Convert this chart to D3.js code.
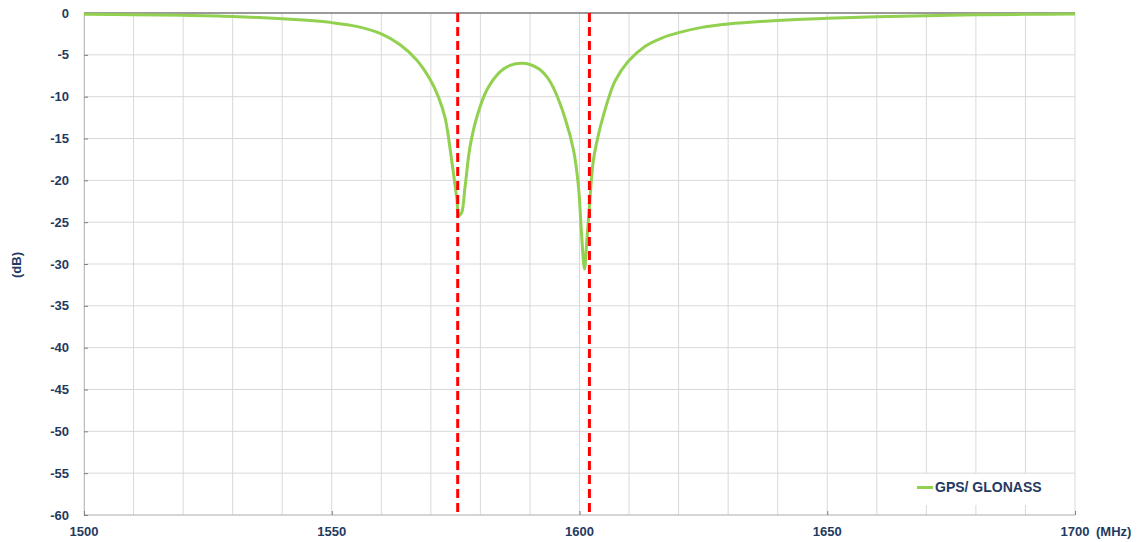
<!DOCTYPE html>
<html>
<head>
<meta charset="utf-8">
<script src="https://cdn.jsdelivr.net/npm/d3@7"></script>
<style>
  body { margin: 0; background: #fff; }
  text { font-family: 'Liberation Sans', Arial, sans-serif; font-weight: bold; fill: #1f3a60; }
</style>
</head>
<body>
<script>
let width = 1139
let height = 542

// frequency (MHz) and response (dB)
let freqs = [1500, 1510, 1520, 1530, 1540, 1545, 1550, 1555, 1560, 1563.8, 1567.1, 1569.8,
  1571.5, 1572.9, 1574.2, 1575.2, 1575.7, 1576.2, 1576.9, 1577.9, 1579.3, 1581.3, 1584,
  1586, 1588.3, 1590, 1592, 1593.5, 1594.7, 1597.1, 1598.8, 1599.8, 1600.4, 1601.0, 1601.4,
  1602.0, 1602.8, 1603.8, 1604.8, 1605.8, 1607.2, 1609.8, 1613.2, 1616.6, 1620, 1624.7, 1630,
  1640, 1650, 1660, 1670, 1680, 1690, 1700]
let gains = [-0.15, -0.2, -0.28, -0.42, -0.68, -0.88, -1.15, -1.6, -2.5, -3.8, -5.6, -7.9,
  -10.0, -12.6, -17.6, -22, -24.2, -23.9, -20.8, -16, -12.4, -9.2, -7.0,
  -6.25, -6.0, -6.15, -6.75, -7.7, -8.9, -12.6, -16.4, -20.8, -26.3, -30.6, -27.9,
  -23.1, -17.6, -14.6, -12.3, -10.3, -8.1, -5.8, -4.0, -3.0, -2.35, -1.72, -1.32,
  -0.9, -0.64, -0.45, -0.32, -0.22, -0.16, -0.12]
let markers = [1575.42, 1602]
let seriesName = 'GPS/ GLONASS'
let xTicks = [1500, 1550, 1600, 1650, 1700]
let yTicks = d3.range(-60, 1, 5)

let svg = d3.select('body')
  .append('svg')
  .attr('width', width)
  .attr('height', height)

let x = d3.scaleLinear().domain([1500, 1700]).range([84, 1075])
let y = d3.scaleLinear().domain([-60, 0]).range([515, 13])

// grid
svg.append('g')
  .selectAll('line')
  .data(d3.range(1500, 1701, 10))
  .enter()
  .append('line')
  .attr('x1', d => x(d)).attr('x2', d => x(d))
  .attr('y1', y(0)).attr('y2', y(-60))
  .attr('stroke', '#d9d9d9')
  .attr('stroke-width', 1)

svg.append('g')
  .selectAll('line')
  .data(yTicks)
  .enter()
  .append('line')
  .attr('x1', x(1500)).attr('x2', x(1700))
  .attr('y1', d => y(d)).attr('y2', d => y(d))
  .attr('stroke', '#d9d9d9')
  .attr('stroke-width', 1)

// bottom frame and zero line
svg.append('line')
  .attr('x1', x(1500)).attr('x2', x(1700))
  .attr('y1', y(-60)).attr('y2', y(-60))
  .attr('stroke', '#bfbfbf')
svg.append('line')
  .attr('x1', x(1500)).attr('x2', x(1700))
  .attr('y1', y(0)).attr('y2', y(0))
  .attr('stroke', '#7f7f7f')
  .attr('stroke-width', 1.5)

// axes
let yAxis = d3.axisRight(y).tickValues(yTicks).tickSize(4).tickFormat('')
svg.append('g')
  .attr('transform', `translate(${x(1500)},0)`)
  .call(yAxis)
  .call(g => g.select('.domain').attr('stroke', '#bfbfbf'))
  .call(g => g.selectAll('.tick line').attr('stroke', '#7f7f7f'))

svg.append('g')
  .selectAll('text')
  .data(yTicks)
  .enter()
  .append('text')
  .attr('x', 69)
  .attr('y', d => y(d))
  .attr('dy', '0.35em')
  .attr('text-anchor', 'end')
  .attr('font-size', 13)
  .text(d => d)

let xAxis = d3.axisTop(x).tickValues(xTicks).tickSize(4).tickFormat('')
svg.append('g')
  .attr('transform', `translate(0,${y(-60)})`)
  .call(xAxis)
  .call(g => g.select('.domain').remove())
  .call(g => g.selectAll('.tick line').attr('stroke', '#7f7f7f'))

svg.append('g')
  .selectAll('text')
  .data(xTicks)
  .enter()
  .append('text')
  .attr('x', d => x(d))
  .attr('y', 531)
  .attr('dy', '0.35em')
  .attr('text-anchor', 'middle')
  .attr('font-size', 13)
  .text(d => d)

svg.append('text')
  .attr('x', 1096)
  .attr('y', 531)
  .attr('dy', '0.35em')
  .attr('font-size', 13)
  .text('(MHz)')

svg.append('text')
  .attr('transform', 'translate(21,265) rotate(-90)')
  .attr('text-anchor', 'middle')
  .attr('font-size', 13)
  .text('(dB)')

// response curve
let line = d3.line()
  .x((d, i) => x(freqs[i]))
  .y(d => y(d))
  .curve(d3.curveCatmullRom.alpha(0.5))

svg.append('path')
  .datum(gains)
  .attr('d', line)
  .attr('fill', 'none')
  .attr('stroke', '#92d050')
  .attr('stroke-width', 3)

// band markers
svg.append('g')
  .selectAll('line')
  .data(markers)
  .enter()
  .append('line')
  .attr('x1', d => x(d)).attr('x2', d => x(d))
  .attr('y1', y(0)).attr('y2', y(-60))
  .attr('stroke', '#ff0000')
  .attr('stroke-width', 3)
  .attr('stroke-dasharray', '9,5')

// legend
svg.append('rect')
  .attr('x', 910).attr('y', 474)
  .attr('width', 164).attr('height', 31)
  .attr('fill', '#fff')
svg.append('line')
  .attr('x1', 917).attr('x2', 933)
  .attr('y1', 487.5).attr('y2', 487.5)
  .attr('stroke', '#92d050')
  .attr('stroke-width', 3)
svg.append('text')
  .attr('x', 935)
  .attr('y', 487.5)
  .attr('dy', '0.35em')
  .attr('font-size', 14)
  .text(seriesName)
</script>
</body>
</html>
